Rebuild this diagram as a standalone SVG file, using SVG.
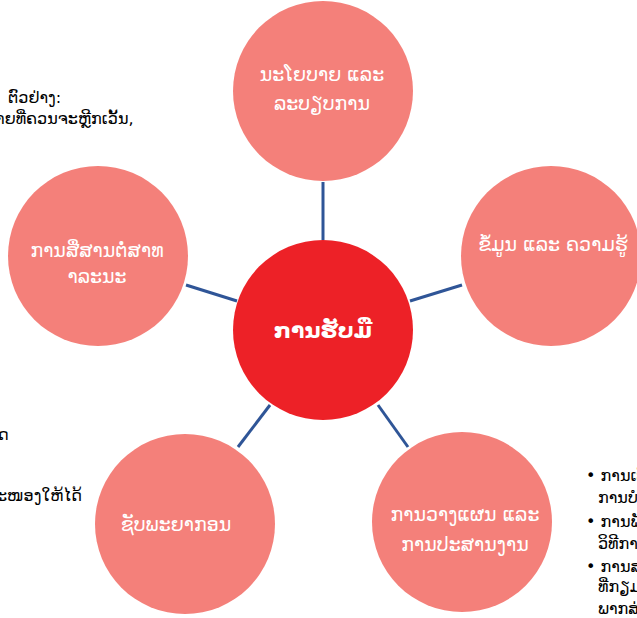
<svg xmlns="http://www.w3.org/2000/svg" width="637" height="618" viewBox="0 0 637 618">
<style>
.sat{fill:#F4807A}
.hub{fill:#ED2127}
.lbl{font-family:"DejaVu Sans","Noto Sans",sans-serif;font-size:19px;fill:#FFFFFF;text-anchor:middle}
.hubl{font-family:"DejaVu Sans","Noto Sans",sans-serif;font-size:22px;font-weight:bold;fill:#FFFFFF;text-anchor:middle}
.side{font-family:"DejaVu Sans","Noto Sans",sans-serif;font-size:16px;fill:#000000}
.conn{stroke:#2F5597;stroke-width:3;fill:none}
</style>
<rect width="637" height="618" fill="#FFFFFF"/>
<g id="side-text">
<text class="side" x="8" y="103">ຕົວຢ່າງ:</text>
<text class="side" x="-4" y="124">າຍທີ່ຄວນຈະຫຼີກເວັ້ນ,</text>
<text class="side" x="-2" y="440">ດ</text>
<text class="side" x="-3" y="501">ະໜອງໃຫ້ໄດ້</text>
<text class="side" x="586" y="481">• ການເບິ</text>
<text class="side" x="598" y="503">ການບໍ</text>
<text class="side" x="586" y="527">• ການພັ</text>
<text class="side" x="598" y="549">ວິທີກາ</text>
<text class="side" x="586" y="572">• ການສ</text>
<text class="side" x="598" y="592">ທີ່ກຽມ</text>
<text class="side" x="598" y="614">ພາກສ່</text>
</g>
<g id="connectors">
<line class="conn" x1="323" y1="182" x2="323" y2="240"/>
<line class="conn" x1="186" y1="285" x2="237" y2="301"/>
<line class="conn" x1="410" y1="301" x2="462" y2="285"/>
<line class="conn" x1="238" y1="447" x2="270" y2="405"/>
<line class="conn" x1="378" y1="405" x2="408" y2="447"/>
</g>
<g id="node-top">
<circle class="sat" cx="323" cy="91" r="90"/>
<text class="lbl" x="322" y="81">ນະໂຍບາຍ ແລະ</text>
<text class="lbl" x="322" y="110">ລະບຽບການ</text>
</g>
<g id="node-right">
<circle class="sat" cx="551" cy="256" r="90"/>
<text class="lbl" x="553" y="251">ຂໍ້ມູນ ແລະ ຄວາມຮູ້</text>
</g>
<g id="node-left">
<circle class="sat" cx="98" cy="256" r="90"/>
<text class="lbl" x="97" y="257">ການສື່ສານຕໍ່ສາທ</text>
<text class="lbl" x="97" y="283">າລະນະ</text>
</g>
<g id="node-bottom-left">
<circle class="sat" cx="185" cy="524" r="90"/>
<text class="lbl" x="176" y="531">ຊັບພະຍາກອນ</text>
</g>
<g id="node-bottom-right">
<circle class="sat" cx="462" cy="522" r="90"/>
<text class="lbl" x="465" y="521">ການວາງແຜນ ແລະ</text>
<text class="lbl" x="465" y="551">ການປະສານງານ</text>
</g>
<g id="node-center">
<circle class="hub" cx="323" cy="330" r="90"/>
<text class="hubl" x="323" y="338">ການຮັບມື</text>
</g>
</svg>
